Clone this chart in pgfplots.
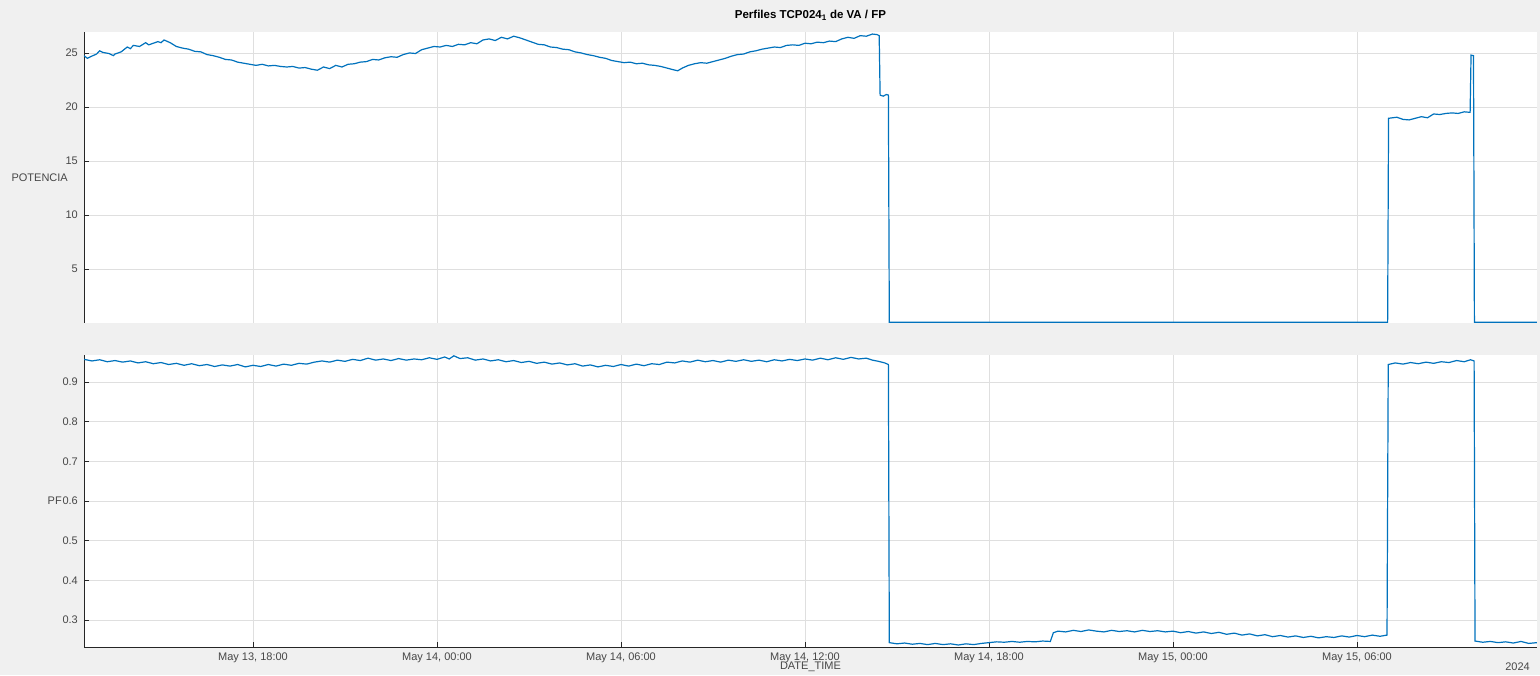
\documentclass[border=0pt]{standalone}
\usepackage{pgfplots}
\pgfplotsset{compat=1.18}
\usepackage{pgfplotstable}
\usepackage{fontspec}
\setmainfont{Liberation Sans}
\definecolor{figgray}{RGB}{240,240,240}
\definecolor{mblue}{RGB}{0,114,189}
\definecolor{gridc}{RGB}{223,223,223}
\definecolor{axc}{RGB}{38,38,38}

\pgfplotstableread{
h v
12.49 24.75
12.6 24.5
12.7 24.65
12.9 24.9
13.0 25.2
13.1 25.05
13.3 24.95
13.45 24.75
13.5 24.9
13.7 25.1
13.9 25.55
14.0 25.4
14.1 25.7
14.3 25.6
14.5 25.95
14.6 25.75
14.7 25.85
14.9 26.05
15.0 25.95
15.1 26.2
15.3 25.95
15.5 25.6
15.7 25.45
15.9 25.35
16.1 25.15
16.3 25.1
16.5 24.85
16.7 24.75
16.9 24.6
17.1 24.4
17.3 24.35
17.5 24.15
17.7 24.05
17.9 23.95
18.1 23.85
18.3 23.95
18.5 23.8
18.7 23.85
18.9 23.75
19.1 23.7
19.3 23.75
19.5 23.6
19.7 23.65
19.9 23.5
20.1 23.4
20.3 23.7
20.5 23.55
20.7 23.85
20.9 23.7
21.1 23.95
21.3 24.0
21.5 24.15
21.7 24.2
21.9 24.4
22.1 24.35
22.3 24.55
22.5 24.65
22.7 24.6
22.9 24.85
23.1 25.0
23.3 24.95
23.5 25.3
23.7 25.45
23.9 25.6
24.1 25.55
24.3 25.7
24.5 25.6
24.7 25.8
24.9 25.75
25.1 25.95
25.3 25.85
25.5 26.2
25.7 26.3
25.9 26.15
26.1 26.45
26.3 26.3
26.5 26.55
26.7 26.4
26.9 26.2
27.1 26.0
27.3 25.8
27.5 25.75
27.7 25.55
27.9 25.5
28.1 25.35
28.3 25.3
28.5 25.1
28.7 25.0
28.9 24.85
29.1 24.75
29.3 24.6
29.5 24.5
29.7 24.3
29.9 24.2
30.1 24.1
30.3 24.15
30.5 24.0
30.7 24.05
30.9 23.9
31.1 23.85
31.3 23.75
31.5 23.6
31.7 23.45
31.85 23.35
32.0 23.6
32.2 23.85
32.4 24.0
32.6 24.1
32.8 24.05
33.0 24.2
33.2 24.35
33.4 24.5
33.6 24.7
33.8 24.85
34.0 24.9
34.2 25.1
34.4 25.2
34.6 25.35
34.8 25.45
35.0 25.55
35.2 25.5
35.4 25.7
35.6 25.75
35.8 25.7
36.0 25.9
36.2 25.85
36.4 26.0
36.6 25.95
36.8 26.1
37.0 26.05
37.2 26.3
37.4 26.45
37.6 26.35
37.8 26.6
38.0 26.55
38.2 26.75
38.35 26.7
38.42 26.6
38.45 21.1
38.55 21.0
38.65 21.15
38.72 21.1
38.75 0.07
40.0 0.07
42.0 0.06
44.0 0.07
46.0 0.07
48.0 0.06
50.0 0.07
52.0 0.07
54.0 0.06
55.0 0.07
55.03 18.95
55.3 19.05
55.5 18.85
55.7 18.8
55.9 18.95
56.1 19.1
56.3 19.0
56.5 19.35
56.7 19.3
56.9 19.4
57.1 19.45
57.3 19.4
57.5 19.55
57.69 19.5
57.72 24.8
57.80 24.75
57.83 0.07
59.87 0.07
}\toptable

\pgfplotstableread{
h v
12.49 0.957
12.75 0.953
13.0 0.956
13.25 0.951
13.5 0.954
13.75 0.950
14.0 0.953
14.25 0.948
14.5 0.951
14.75 0.946
15.0 0.949
15.25 0.944
15.5 0.947
15.75 0.942
16.0 0.946
16.25 0.941
16.5 0.944
16.75 0.939
17.0 0.943
17.25 0.940
17.5 0.944
17.75 0.938
18.0 0.942
18.25 0.939
18.5 0.944
18.75 0.940
19.0 0.945
19.25 0.942
19.5 0.947
19.75 0.945
20.0 0.950
20.25 0.953
20.5 0.950
20.75 0.955
21.0 0.952
21.25 0.957
21.5 0.954
21.75 0.960
22.0 0.955
22.25 0.958
22.5 0.954
22.75 0.959
23.0 0.955
23.25 0.958
23.5 0.956
23.75 0.961
24.0 0.957
24.25 0.963
24.4 0.958
24.55 0.966
24.75 0.959
25.0 0.961
25.25 0.955
25.5 0.958
25.75 0.953
26.0 0.956
26.25 0.951
26.5 0.954
26.75 0.949
27.0 0.952
27.25 0.947
27.5 0.950
27.75 0.945
28.0 0.948
28.25 0.943
28.5 0.946
28.75 0.940
29.0 0.943
29.25 0.938
29.5 0.942
29.75 0.939
30.0 0.944
30.25 0.940
30.5 0.945
30.75 0.941
31.0 0.946
31.25 0.944
31.5 0.950
31.75 0.948
32.0 0.953
32.25 0.950
32.5 0.955
32.75 0.951
33.0 0.954
33.25 0.950
33.5 0.955
33.75 0.952
34.0 0.956
34.25 0.952
34.5 0.955
34.75 0.951
35.0 0.956
35.25 0.953
35.5 0.957
35.75 0.954
36.0 0.958
36.25 0.955
36.5 0.960
36.75 0.956
37.0 0.961
37.25 0.957
37.5 0.962
37.75 0.958
38.0 0.960
38.2 0.955
38.4 0.952
38.6 0.948
38.72 0.944
38.75 0.243
39.0 0.240
39.25 0.242
39.5 0.239
39.75 0.241
40.0 0.238
40.25 0.241
40.5 0.238
40.75 0.240
41.0 0.237
41.25 0.240
41.5 0.238
41.75 0.241
42.0 0.243
42.25 0.245
42.5 0.244
42.75 0.246
43.0 0.244
43.25 0.246
43.5 0.245
43.75 0.247
44.0 0.246
44.1 0.268
44.25 0.272
44.5 0.270
44.75 0.274
45.0 0.271
45.25 0.275
45.5 0.272
45.75 0.270
46.0 0.274
46.25 0.271
46.5 0.273
46.75 0.270
47.0 0.274
47.25 0.271
47.5 0.273
47.75 0.270
48.0 0.272
48.25 0.268
48.5 0.271
48.75 0.267
49.0 0.270
49.25 0.266
49.5 0.269
49.75 0.264
50.0 0.267
50.25 0.262
50.5 0.265
50.75 0.260
51.0 0.263
51.25 0.258
51.5 0.261
51.75 0.257
52.0 0.260
52.25 0.256
52.5 0.259
52.75 0.255
53.0 0.258
53.25 0.256
53.5 0.260
53.75 0.257
54.0 0.261
54.25 0.258
54.5 0.262
54.75 0.259
54.98 0.262
55.02 0.944
55.25 0.948
55.5 0.945
55.75 0.949
56.0 0.946
56.25 0.950
56.5 0.947
56.75 0.951
57.0 0.949
57.25 0.954
57.5 0.951
57.7 0.956
57.82 0.953
57.85 0.247
58.1 0.244
58.35 0.246
58.6 0.243
58.85 0.245
59.1 0.242
59.35 0.246
59.6 0.241
59.87 0.243
}\bottable

\pgfplotsset{
  mystyle/.style={
    scale only axis,
    anchor=south west,
    width=1453pt,
    xmin=12.489, xmax=59.87,
    enlargelimits=false,
    axis lines=left,
    axis line style={-, draw=axc, line width=0.8pt},
    grid=major,
    grid style={draw=gridc, line width=0.8pt},
    tick align=inside,
    major tick length=5pt,
    tick style={draw=axc, line width=0.8pt},
    xtick={18,24,30,36,42,48,54},
    /pgf/number format/assume math mode=true,
    tick label style={font=\fontsize{11}{13}\selectfont, text=axc!85},
    yticklabel style={anchor=east, inner sep=0pt, xshift=-6pt},
    axis background/.style={fill=white},
  }
}

\begin{document}
\begin{tikzpicture}[x=1pt,y=1pt]
\fill[figgray] (0,0) rectangle (1540,675);
\useasboundingbox (0,0) rectangle (1540,675);

\begin{axis}[mystyle,
  at={(84pt,352pt)},
  height=291pt,
  ymin=0, ymax=26.94,
  ytick={5,10,15,20,25},
  xticklabels={},
  every major x tick/.append style={draw=none},
  x axis line style={draw=none},
  title={\textbf{Perfiles TCP024\textsubscript{1} de VA / FP}},
  title style={at={(axis description cs:0.5,1)}, anchor=base, yshift=7.5pt, font=\fontsize{11.5}{13}\selectfont, inner sep=0pt},
  ylabel={POTENCIA},
  every axis y label/.style={at={(axis description cs:0,0.5)}, anchor=east, xshift=-16pt, font=\fontsize{11}{13}\selectfont, text=axc!85, inner sep=0pt},
]
\addplot[mblue, line width=1.2pt, no markers] table[x=h, y=v] {\toptable};
\end{axis}

\begin{axis}[mystyle,
  name=bot,
  at={(84pt,28pt)},
  height=292pt,
  ymin=0.232, ymax=0.968,
  ytick={0.3,0.4,0.5,0.6,0.7,0.8,0.9},
  yticklabel style={/pgf/number format/.cd, fixed, precision=1},
  xticklabels={{May 13, 18:00}, {May 14, 00:00}, {May 14, 06:00}, {May 14, 12:00}, {May 14, 18:00}, {May 15, 00:00}, {May 15, 06:00}},
  xticklabel style={anchor=base, yshift=-13pt},
  xlabel={DATE\_TIME},
  every axis x label/.style={at={(axis description cs:0.5,0)}, anchor=base, yshift=-23pt, font=\fontsize{11}{13}\selectfont, text=axc!85, inner sep=0pt},
  ylabel={PF},
  every axis y label/.style={at={(axis description cs:0,0.5)}, anchor=east, xshift=-22pt, font=\fontsize{11}{13}\selectfont, text=axc!85, inner sep=0pt},
]
\addplot[mblue, line width=1.2pt, no markers] table[x=h, y=v] {\bottable};
\end{axis}
\node[anchor=base east, font=\fontsize{11}{13}\selectfont, text=axc!85, inner sep=0pt] at ([xshift=-7pt, yshift=-23pt]bot.south east) {2024};
\end{tikzpicture}
\end{document}
